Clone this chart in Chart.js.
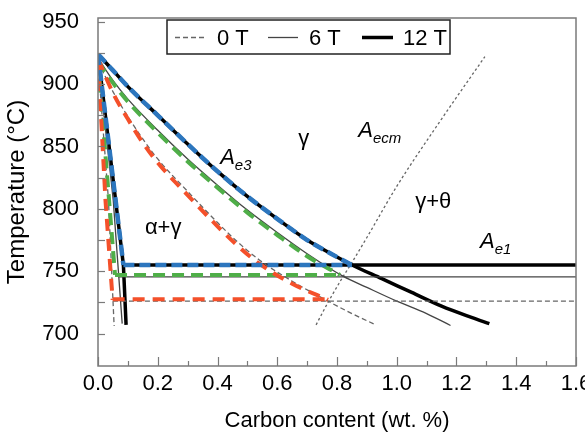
<!DOCTYPE html>
<html>
<head>
<meta charset="utf-8">
<script src="https://cdn.jsdelivr.net/npm/chart.js@4.4.1/dist/chart.umd.min.js"></script>
<style>
  html, body { margin: 0; padding: 0; background: #fff; }
  #wrap { width: 585px; height: 439px; }
</style>
</head>
<body>
<div id="wrap"><canvas id="phaseChart" width="585" height="439"></canvas></div>
<script>
// Fe-C phase boundaries under 0 T, 6 T and 12 T (carbon wt.% vs °C)

// axis ticks
const xTicks = [0, 0.1, 0.2, 0.3, 0.4, 0.5, 0.6, 0.7, 0.8, 0.9, 1.0, 1.1, 1.2, 1.3, 1.4, 1.5, 1.6];
const xTickLabels = ['0.0', '', '0.2', '', '0.4', '', '0.6', '', '0.8', '', '1.0', '', '1.2', '', '1.4', '', '1.6'];
const yTicks = [700, 725, 750, 775, 800, 825, 850, 875, 900, 925, 950];
const yTickLabels = ['700', '', '750', '', '800', '', '850', '', '900', '', '950'];

// 0 T (calculated)
const ae3_0T_x = [0, 0.05, 0.1, 0.15, 0.2, 0.3, 0.4, 0.46, 0.54, 0.65, 0.77, 0.85, 0.93];
const ae3_0T_y = [918, 894, 874, 856, 840, 814, 789, 775, 759, 742, 726, 716, 707];
const fer_0T_x = [0, 0.035, 0.054];
const fer_0T_y = [918, 807, 706];
const ae1_0T_x = [0.05, 1.6];
const ae1_0T_y = [726, 726];

// 6 T (calculated)
const ae3_6T_x = [0, 0.05, 0.1, 0.2, 0.3, 0.4, 0.5, 0.6, 0.7, 0.82, 0.9, 1.0, 1.1, 1.18];
const ae3_6T_y = [921, 903, 888, 863, 840, 819, 799, 781, 764, 746, 737, 726, 716, 706.5];
const fer_6T_x = [0, 0.051, 0.081];
const fer_6T_y = [921, 807, 708];
const ae1_6T_x = [0.069, 1.6];
const ae1_6T_y = [745.5, 745.5];

// 12 T (calculated)
const ae3_12T_x = [0, 0.05, 0.1, 0.2, 0.3, 0.4, 0.5, 0.6, 0.7, 0.78, 0.85, 0.95, 1.05, 1.15, 1.25, 1.31];
const ae3_12T_y = [924, 911, 898, 875, 852, 830, 810, 792, 775, 764, 755, 744, 733, 722, 713, 708];
const fer_12T_x = [0, 0.085, 0.094];
const fer_12T_y = [924, 755, 707];
const ae1_12T_x = [0.085, 1.6];
const ae1_12T_y = [755, 755];

// coloured dashed boundaries
const redAe3_x = [0, 0.05, 0.1, 0.15, 0.2, 0.3, 0.4, 0.46, 0.54, 0.65, 0.77];
const redAe3_y = [920, 893, 872, 853, 837, 811, 786, 772, 756, 740, 727];
const redFer_x = [0, 0.025, 0.049];
const redFer_y = [920, 807, 727];
const redAe1_x = [0.049, 0.77];
const redAe1_y = [727.5, 727.5];

const greenAe3_x = [0, 0.05, 0.1, 0.2, 0.3, 0.4, 0.5, 0.6, 0.7, 0.81];
const greenAe3_y = [918, 901, 886, 861, 838, 817, 797, 779, 762, 747];
const greenFer_x = [0, 0.057];
const greenFer_y = [918, 747];
const greenAe1_x = [0.057, 0.81];
const greenAe1_y = [747, 747];

const blueAe3_x = [0, 0.05, 0.1, 0.2, 0.3, 0.4, 0.5, 0.6, 0.7, 0.78, 0.85];
const blueAe3_y = [924, 911, 898, 875, 852, 830, 810, 792, 775, 764, 755];
const blueFer_x = [0, 0.085];
const blueFer_y = [924, 755];
const blueAe1_x = [0.085, 0.85];
const blueAe1_y = [755, 755];

// Acm line
const acm_x = [0.73, 0.77, 0.82, 0.845, 0.9, 1.0, 1.15, 1.295];
const acm_y = [707, 725, 745.5, 755, 777, 818, 872, 922];

const FONT = '"Liberation Sans", Arial, Helvetica, sans-serif';

const styles = {
  t0: { borderColor: '#666', borderWidth: 1.3, borderDash: [5, 3], order: 2 },
  t6: { borderColor: '#444', borderWidth: 1.3, order: 2 },
  t12: { borderColor: '#000', borderWidth: 3.5, order: 2 },
  acm: { borderColor: '#666', borderWidth: 1.3, borderDash: [2.5, 2.5], order: 2 },
  red: { borderColor: '#f4502a', borderWidth: 4, borderDash: [12, 8], order: 1 },
  green: { borderColor: '#4fae48', borderWidth: 4, borderDash: [12, 7], order: 1 },
  blue: { borderColor: '#2c76be', borderWidth: 4.5, borderDash: [11, 5], order: 0 }
};

function line(xs, ys, style, curved) {
  return Object.assign({
    data: xs.map((x, i) => ({ x: x, y: ys[i] })),
    pointRadius: 0,
    fill: false,
    tension: 0,
    cubicInterpolationMode: curved ? 'monotone' : 'default'
  }, style);
}

const datasets = [
  line(ae3_0T_x, ae3_0T_y, styles.t0, true),
  line(fer_0T_x, fer_0T_y, styles.t0),
  line(ae1_0T_x, ae1_0T_y, styles.t0),
  line(ae3_6T_x, ae3_6T_y, styles.t6, true),
  line(fer_6T_x, fer_6T_y, styles.t6),
  line(ae1_6T_x, ae1_6T_y, styles.t6),
  line(ae3_12T_x, ae3_12T_y, styles.t12, true),
  line(fer_12T_x, fer_12T_y, styles.t12),
  line(ae1_12T_x, ae1_12T_y, styles.t12),
  line(acm_x, acm_y, styles.acm, true),
  line(redAe3_x, redAe3_y, styles.red, true),
  line(redFer_x, redFer_y, styles.red),
  line(redAe1_x, redAe1_y, styles.red),
  line(greenAe3_x, greenAe3_y, styles.green, true),
  line(greenFer_x, greenFer_y, styles.green),
  line(greenAe1_x, greenAe1_y, styles.green),
  line(blueAe3_x, blueAe3_y, styles.blue, true),
  line(blueFer_x, blueFer_y, styles.blue),
  line(blueAe1_x, blueAe1_y, styles.blue)
];

// frame, inward ticks, region labels and legend box
const decorPlugin = {
  id: 'decor',
  afterDraw(chart) {
    const { ctx, chartArea: a } = chart;
    const xs = chart.scales.x, ys = chart.scales.y;
    ctx.save();

    ctx.strokeStyle = '#7a7a7a';
    ctx.lineWidth = 1.5;
    ctx.strokeRect(a.left, a.top, a.right - a.left, a.bottom - a.top);

    ctx.lineWidth = 1.2;
    xTicks.forEach((v, i) => {
      const px = Math.round(xs.getPixelForValue(v)) + 0.5;
      const len = xTickLabels[i] ? 9 : 5;
      ctx.beginPath();
      ctx.moveTo(px, a.bottom);
      ctx.lineTo(px, a.bottom - len);
      ctx.stroke();
    });
    yTicks.forEach(v => {
      const py = Math.round(ys.getPixelForValue(v)) + 0.5;
      ctx.beginPath();
      ctx.moveTo(a.left, py);
      ctx.lineTo(a.left + 7, py);
      ctx.stroke();
    });

    // region labels
    ctx.fillStyle = '#000';
    ctx.textBaseline = 'alphabetic';
    ctx.textAlign = 'left';
    const at = (x, y) => [xs.getPixelForValue(x), ys.getPixelForValue(y)];
    const plain = (txt, x, y) => {
      const p = at(x, y);
      ctx.font = '22px ' + FONT;
      ctx.fillText(txt, p[0], p[1]);
    };
    const sub = (main, s, x, y) => {
      const p = at(x, y);
      ctx.font = 'italic 22px ' + FONT;
      ctx.fillText(main, p[0], p[1]);
      const w = ctx.measureText(main).width;
      ctx.font = 'italic 15px ' + FONT;
      ctx.fillText(s, p[0] + w, p[1] + 6);
    };
    plain('\u03B3', 0.67, 851.5);
    plain('\u03B1+\u03B3', 0.157, 779.5);
    plain('\u03B3+\u03B8', 1.062, 800.5);
    sub('A', 'e3', 0.409, 836);
    sub('A', 'ecm', 0.871, 857.5);
    sub('A', 'e1', 1.279, 768.5);

    // legend
    const lx = a.left + 69, ly = a.top + 2, lw = 283, lh = 34;
    ctx.fillStyle = '#fff';
    ctx.fillRect(lx, ly, lw, lh);
    ctx.strokeStyle = '#222';
    ctx.lineWidth = 1.5;
    ctx.strokeRect(lx, ly, lw, lh);
    const cy = ly + lh / 2 + 0.5;
    const sample = (x0, x1, st) => {
      ctx.beginPath();
      ctx.strokeStyle = st.borderColor;
      ctx.lineWidth = st.borderWidth;
      ctx.setLineDash(st.borderDash || []);
      ctx.moveTo(x0, cy);
      ctx.lineTo(x1, cy);
      ctx.stroke();
      ctx.setLineDash([]);
    };
    sample(lx + 8, lx + 40, styles.t0);
    sample(lx + 101, lx + 131, styles.t6);
    sample(lx + 195, lx + 226, styles.t12);
    ctx.fillStyle = '#000';
    ctx.font = '22px ' + FONT;
    ctx.textBaseline = 'middle';
    ctx.fillText('0 T', lx + 50, cy + 1);
    ctx.fillText('6 T', lx + 142, cy + 1);
    ctx.fillText('12 T', lx + 236, cy + 1);

    ctx.restore();
  }
};

Chart.defaults.font.family = FONT;
Chart.defaults.color = '#000';

new Chart(document.getElementById('phaseChart'), {
  type: 'line',
  data: { datasets: datasets },
  plugins: [decorPlugin],
  options: {
    responsive: false,
    animation: false,
    layout: { padding: { top: 18, right: 9, left: 0, bottom: 0 } },
    plugins: { legend: { display: false }, tooltip: { enabled: false } },
    scales: {
      x: {
        type: 'linear',
        min: 0,
        max: 1.6,
        grid: { display: false, drawTicks: false },
        border: { display: false },
        afterBuildTicks: s => { s.ticks = xTicks.map(v => ({ value: v })); },
        afterFit: s => { s.height = 73; s.paddingLeft = 0; s.paddingRight = 0; },
        ticks: {
          autoSkip: false,
          maxRotation: 0,
          padding: 5,
          font: { size: 22 },
          callback: (v, i) => xTickLabels[i]
        },
        title: {
          display: true,
          text: 'Carbon content (wt. %)',
          font: { size: 22 },
          padding: { top: 0, bottom: 5 }
        }
      },
      y: {
        type: 'linear',
        min: 674,
        max: 953,
        grid: { display: false, drawTicks: false },
        border: { display: false },
        afterBuildTicks: s => { s.ticks = yTicks.map(v => ({ value: v })); },
        afterFit: s => { s.width = 98; s.paddingTop = 0; s.paddingBottom = 0; },
        ticks: {
          padding: 19,
          font: { size: 22 },
          callback: (v, i) => yTickLabels[i]
        },
        title: {
          display: true,
          text: 'Temperature (\u00B0C)',
          font: { size: 24 },
          padding: { top: 3, bottom: 0 }
        }
      }
    }
  }
});
</script>
</body>
</html>
